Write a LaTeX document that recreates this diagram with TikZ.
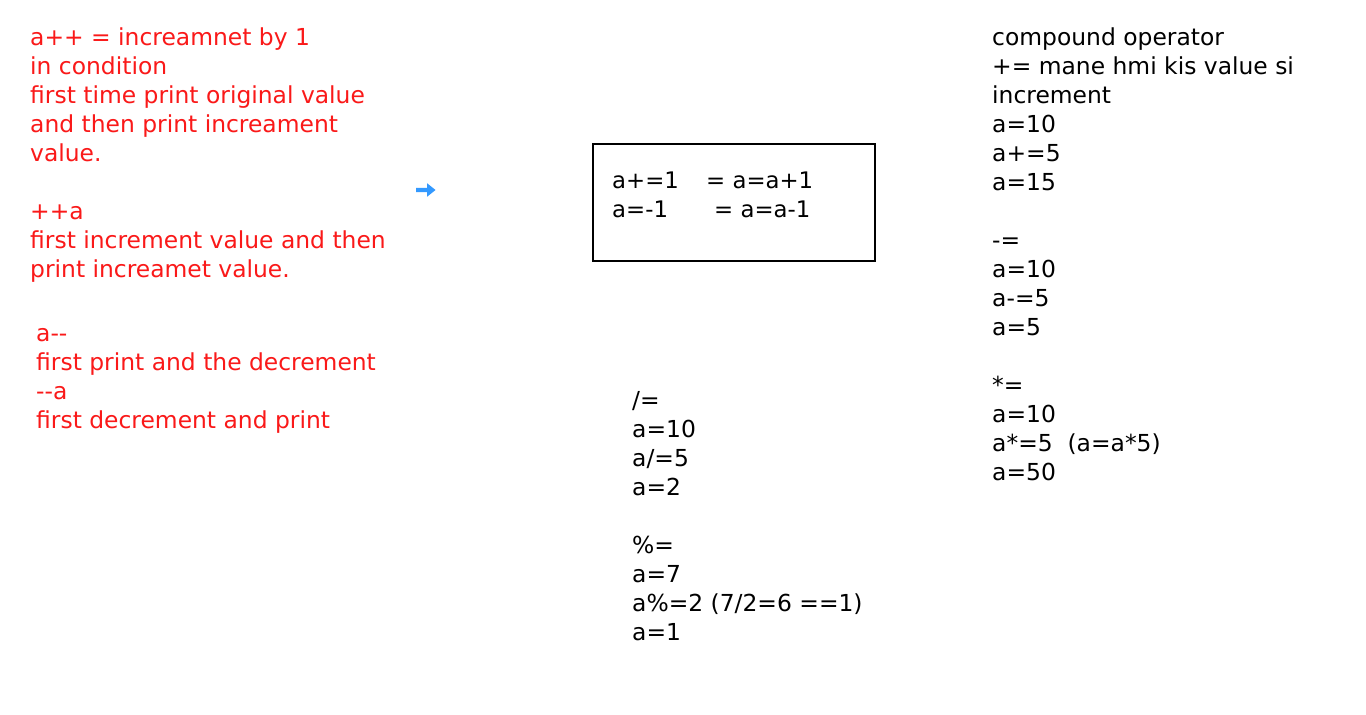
\documentclass[tikz,border=0pt]{standalone}
\usepackage{fontspec}
\setmainfont{DejaVu Sans}
\definecolor{txtred}{RGB}{250,25,25}
\definecolor{arrowblue}{RGB}{51,153,255}
\tikzset{
  ln/.style={anchor=base west, inner sep=0pt, font=\fontsize{23.4}{29}\selectfont},
  redln/.style={ln, text=txtred},
  blkln/.style={ln, text=black},
  boxln/.style={anchor=base west, inner sep=0pt, font=\fontsize{22.8}{29}\selectfont, text=black},
  frame/.style={draw=black, line width=1.6pt}
}
\begin{document}
\begin{tikzpicture}[x=1pt,y=-1pt]
\useasboundingbox (0,0) rectangle (1366,715);
\fill[white] (0,0) rectangle (1366,715);

% left red block
\node[redln] (r1) at (30,45) {a++ = increamnet by 1};
\node[redln] (r2) at (30,74) {in condition};
\node[redln] (r3) at (30,103) {first time print original value};
\node[redln] (r4) at (30,132) {and then print increament};
\node[redln] (r5) at (30,161) {value.};
\node[redln] (r6) at (30,219) {++a};
\node[redln] (r7) at (30,248) {first increment value and then};
\node[redln] (r8) at (30,277) {print increamet value.};
\node[redln] (r9) at (36,341) {a-{}-};
\node[redln] (r10) at (36,370) {first print and the decrement};
\node[redln] (r11) at (36,399) {-{}-a};
\node[redln] (r12) at (36,428) {first decrement and print};

% blue arrow
\fill[arrowblue] (416,187.8) -- (427,187.8) -- (427,183.2) -- (435.5,190) -- (427,196.8) -- (427,192.2) -- (416,192.2) -- cycle;

% box
\node[frame, minimum width=282pt, minimum height=117pt, inner sep=0pt] (box) at (734,202.5) {};
\node[boxln] (b1a) at (612,188) {a+=1};
\node[boxln] (b1b) at (706,188) {= a=a+1};
\node[boxln] (b2a) at (612,217) {a=-1};
\node[boxln] (b2b) at (714,217) {= a=a-1};

% middle block
\node[blkln] (m1) at (632,408) {/=};
\node[blkln] (m2) at (632,437) {a=10};
\node[blkln] (m3) at (632,466) {a/=5};
\node[blkln] (m4) at (632,495) {a=2};
\node[blkln] (m5) at (632,553) {\%=};
\node[blkln] (m6) at (632,582) {a=7};
\node[blkln] (m7) at (632,611) {a\%=2 (7/2=6 ==1)};
\node[blkln] (m8) at (632,640) {a=1};

% right block
\node[blkln] (c1) at (992,45) {compound operator};
\node[blkln] (c2) at (992,74) {+= mane hmi kis value si};
\node[blkln] (c3) at (992,103) {increment};
\node[blkln] (c4) at (992,132) {a=10};
\node[blkln] (c5) at (992,161) {a+=5};
\node[blkln] (c6) at (992,190) {a=15};
\node[blkln] (c7) at (992,248) {-=};
\node[blkln] (c8) at (992,277) {a=10};
\node[blkln] (c9) at (992,306) {a-=5};
\node[blkln] (c10) at (992,335) {a=5};
\node[blkln] (c11) at (992,393) {*=};
\node[blkln] (c12) at (992,422) {a=10};
\node[blkln] (c13) at (992,451) {a*=5\ \ (a=a*5)};
\node[blkln] (c14) at (992,480) {a=50};
\end{tikzpicture}
\end{document}
